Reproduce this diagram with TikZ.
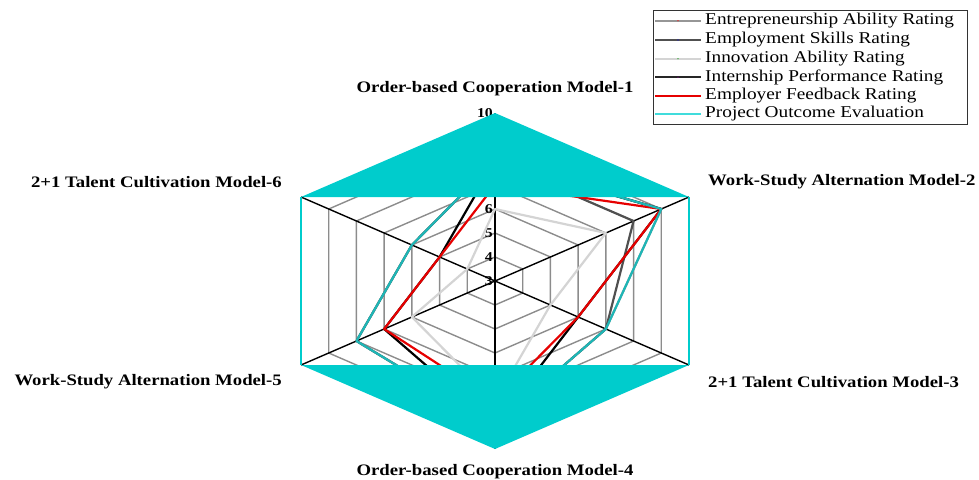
\documentclass[tikz,border=0pt]{standalone}
\usepackage{fontspec}
\setmainfont{Liberation Serif}
\usepackage{graphicx}
\usetikzlibrary{calc}
\definecolor{gridgray}{RGB}{140,140,140}
\definecolor{serentre}{RGB}{150,150,150}
\definecolor{seremploy}{RGB}{80,80,80}
\definecolor{serinnov}{RGB}{212,212,212}
\definecolor{serintern}{RGB}{0,0,0}
\definecolor{serfeed}{RGB}{230,0,0}
\definecolor{serproj}{RGB}{30,182,182}
\definecolor{legproj}{RGB}{64,220,220}
\definecolor{fillcyan}{RGB}{0,204,204}
\newcommand{\hs}[1]{\scalebox{1.17}[1]{#1}}
\newcommand{\hl}[1]{\scalebox{1.17}[1]{#1}}
\begin{document}
\begin{tikzpicture}[x=1pt,y=-1pt,
  gridline/.style={draw=gridgray,line width=1.4pt},
  axisline/.style={draw=black,line width=1.4pt},
  serline/.style={line width=2.2pt,line join=round},
  ticklab/.style={font=\fontsize{13.5}{13.5}\selectfont\bfseries,inner sep=0pt,anchor=east,xshift=-2pt},
  axlab/.style={font=\fontsize{16}{16}\selectfont\bfseries,inner sep=0pt},
  legtext/.style={font=\fontsize{16.5}{16.5}\selectfont,inner sep=0pt,anchor=west},
  legline/.style={line width=1.8pt},
  legdot/.style={inner sep=0pt,minimum size=1.2pt,fill,circle}]
\useasboundingbox (0,0) rectangle (979,479);
\begin{scope}[shift={(495,281)},x=224pt,y=168pt]
  % grid rings
  \foreach \v in {4,...,9}{
    \draw[gridline] (90:{(\v-3)/7}) -- (30:{(\v-3)/7}) -- (-30:{(\v-3)/7}) -- (-90:{(\v-3)/7}) -- (210:{(\v-3)/7}) -- (150:{(\v-3)/7}) -- cycle;
  }
  % axes
  \coordinate (c) at (0,0);
  \foreach \a/\n in {90/1,30/2,-30/3,-90/4,210/5,150/6}{
    \coordinate (v\n) at (\a:1);
    \draw[axisline] (c) -- (v\n);
  }
  % tick labels
  \foreach \v in {3,...,10}{
    \node[ticklab] (t\v) at (90:{(\v-3)/7}) {\hs{\v}};
  }
  % series
  \draw[serline,draw=serentre] (90:{5/7}) -- (30:{6/7}) -- (-30:{4/7}) -- (-90:{6/7}) -- (210:{5/7}) -- (150:{3/7}) -- cycle;
  \draw[serline,draw=seremploy] (90:{5/7}) -- (30:{5/7}) -- (-30:{4/7}) -- (-90:{6/7}) -- (210:{5/7}) -- (150:{3/7}) -- cycle;
  \draw[serline,draw=serinnov] (90:{3/7}) -- (30:{4/7}) -- (-30:{2/7}) -- (-90:{5/7}) -- (210:{3/7}) -- (150:{1/7}) -- cycle;
  \draw[serline,draw=serintern] (90:{5/7}) -- (30:{6/7}) -- (-30:{3/7}) -- (-90:{6/7}) -- (210:{4/7}) -- (150:{2/7}) -- cycle;
  \draw[serline,draw=serfeed] (90:{4/7}) -- (30:{6/7}) -- (-30:{3/7}) -- (-90:{5/7}) -- (210:{4/7}) -- (150:{2/7}) -- cycle;
  \draw[serline,draw=serproj] (90:{5/7}) -- (30:{6/7}) -- (-30:{4/7}) -- (-90:{6/7}) -- (210:{5/7}) -- (150:{3/7}) -- cycle;
  % cyan fill
  \fill[fillcyan] (v6) -- (v1) -- (v2) -- cycle;
  \fill[fillcyan] (v5) -- (v4) -- (v3) -- cycle;
  \draw[draw=fillcyan,line width=1.8pt] (v6) -- (v5);
  \draw[draw=fillcyan,line width=1.8pt] (v2) -- (v3);
\end{scope}
% axis labels
\node[axlab] (l1) at (495,89) {\hs{Order-based Cooperation Model-1}};
\node[axlab,anchor=west] (l2) at (708,182) {\hs{Work-Study Alternation Model-2}};
\node[axlab,anchor=west] (l3) at (708,382) {\hs{2+1 Talent Cultivation Model-3}};
\node[axlab] (l4) at (495,472) {\hs{Order-based Cooperation Model-4}};
\node[axlab,anchor=east] (l5) at (282,382) {\hs{Work-Study Alternation Model-5}};
\node[axlab,anchor=east] (l6) at (282,182) {\hs{2+1 Talent Cultivation Model-6}};
% legend
\draw[draw=black!80,line width=1pt] (653,10.5) rectangle (967,124);
\coordinate (la0) at (655,20.7);  \coordinate (lb0) at (701,20.7);
\coordinate (la1) at (655,40);    \coordinate (lb1) at (701,40);
\coordinate (la2) at (655,58.7);  \coordinate (lb2) at (701,58.7);
\coordinate (la3) at (655,77.3);  \coordinate (lb3) at (701,77.3);
\coordinate (la4) at (655,95.7);  \coordinate (lb4) at (701,95.7);
\coordinate (la5) at (655,114);   \coordinate (lb5) at (701,114);
\draw[legline,draw=serentre] (la0) -- (lb0);
\draw[legline,draw=seremploy] (la1) -- (lb1);
\draw[legline,draw=serinnov] (la2) -- (lb2);
\draw[legline,draw=black!85] (la3) -- (lb3);
\draw[legline,draw=serfeed] (la4) -- (lb4);
\draw[legline,draw=legproj] (la5) -- (lb5);
\node[legdot,red] (ld0) at ($(la0)!0.5!(lb0)$) {};
\node[legdot,blue] (ld1) at ($(la1)!0.5!(lb1)$) {};
\node[legdot,green!60!black] (ld2) at ($(la2)!0.5!(lb2)$) {};
\node[legdot,violet] (ld3) at ($(la3)!0.5!(lb3)$) {};
\node[legtext] (lt0) at (705,20.7) {\hl{Entrepreneurship Ability Rating}};
\node[legtext] (lt1) at (705,40) {\hl{Employment Skills Rating}};
\node[legtext] (lt2) at (705,58.7) {\hl{Innovation Ability Rating}};
\node[legtext] (lt3) at (705,77.3) {\hl{Internship Performance Rating}};
\node[legtext] (lt4) at (705,95.7) {\hl{Employer Feedback Rating}};
\node[legtext] (lt5) at (705,114) {\hl{Project Outcome Evaluation}};
\end{tikzpicture}
\end{document}
